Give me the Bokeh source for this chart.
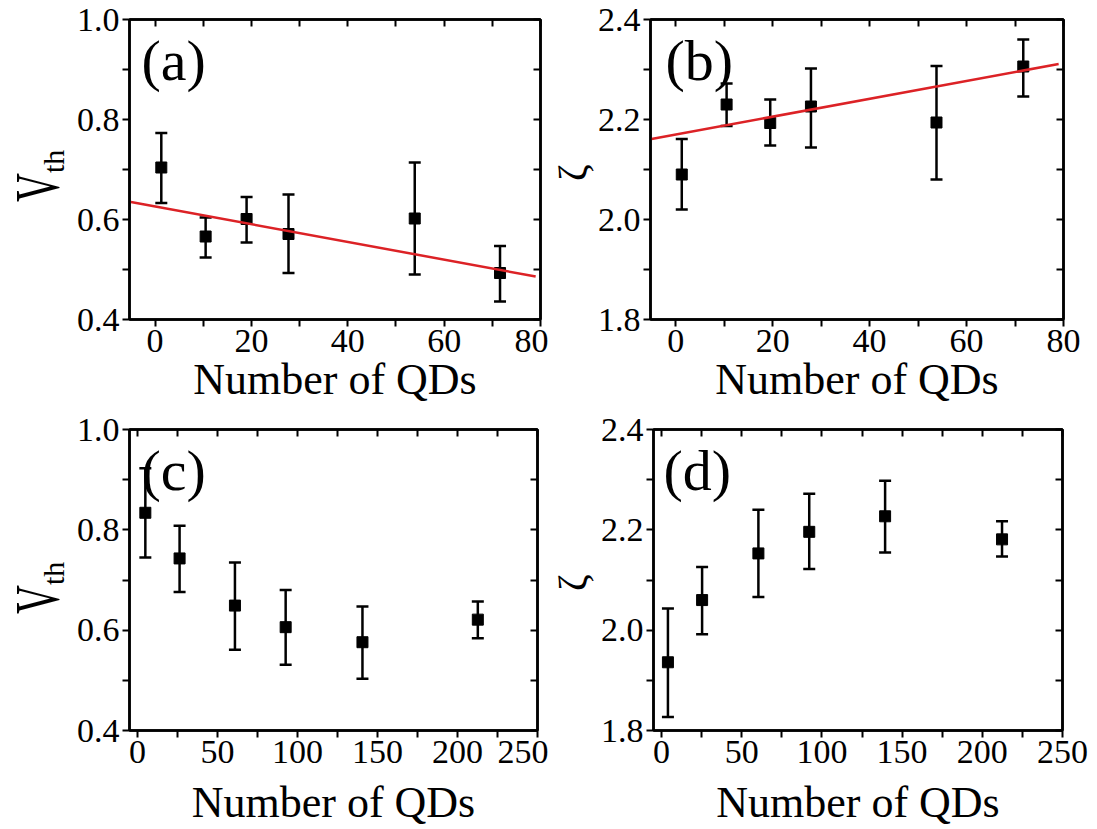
import math
from bokeh.plotting import figure
from bokeh.models import (ColumnDataSource, Whisker, TeeHead, Range1d, FixedTicker,
                          PrintfTickFormatter, LinearAxis, Label, Div)
from bokeh.layouts import column, row
from bokeh.embed import file_html
from bokeh.resources import INLINE

# ---------------- data ----------------
# panel (a): V_th vs number of QDs (small sample)
a_x = [1.3, 10.5, 19.0, 27.7, 53.9, 71.6]
a_y = [0.704, 0.566, 0.601, 0.571, 0.602, 0.493]
a_hi = [0.773, 0.604, 0.645, 0.650, 0.714, 0.547]
a_lo = [0.633, 0.524, 0.554, 0.493, 0.490, 0.436]
a_fit_x = [-5.0, 79.0]
a_fit_y = [0.635, 0.486]

# panel (b): zeta vs number of QDs (small sample)
b_x = [1.25, 10.5, 19.5, 27.9, 53.8, 71.7]
b_y = [2.090, 2.230, 2.193, 2.226, 2.194, 2.306]
b_hi = [2.161, 2.272, 2.240, 2.302, 2.307, 2.360]
b_lo = [2.020, 2.187, 2.148, 2.144, 2.080, 2.246]
b_fit_x = [-5.0, 79.0]
b_fit_y = [2.161, 2.311]

# panel (c): V_th vs number of QDs (large sample)
c_x = [4.9, 26.3, 60.9, 92.6, 140.6, 212.7]
c_y = [0.834, 0.743, 0.649, 0.606, 0.576, 0.621]
c_hi = [0.923, 0.808, 0.735, 0.680, 0.647, 0.657]
c_lo = [0.745, 0.676, 0.561, 0.531, 0.503, 0.584]

# panel (d): zeta vs number of QDs (large sample)
d_x = [4.0, 25.3, 60.4, 92.1, 139.4, 212.3]
d_y = [1.936, 2.060, 2.153, 2.196, 2.227, 2.181]
d_hi = [2.043, 2.126, 2.240, 2.272, 2.298, 2.217]
d_lo = [1.827, 1.992, 2.066, 2.122, 2.155, 2.147]

# ticks
x_ticks_small = [0, 20, 40, 60, 80]
x_minor_small = [10, 30, 50, 70]
x_ticks_large = [0, 50, 100, 150, 200, 250]
x_minor_large = [25, 75, 125, 175, 225]
v_ticks = [0.4, 0.6, 0.8, 1.0]
v_minor = [0.5, 0.7, 0.9]
z_ticks = [1.8, 2.0, 2.2, 2.4]
z_minor = [1.9, 2.1, 2.3]

x_title = "Number of QDs"
v_main, v_sub = "V", "th"
z_title = "\u03b6"
FONT = "Liberation Serif"
LW = 2.5
RED = "#dc2226"


def style_axis(ax, ticks, minor, fmt, shown):
    ax.ticker = FixedTicker(ticks=ticks, minor_ticks=minor)
    ax.formatter = PrintfTickFormatter(format=fmt)
    ax.axis_line_color = "black"
    ax.axis_line_width = LW
    ax.major_tick_line_color = "black"
    ax.major_tick_line_width = 2
    ax.minor_tick_line_color = "black"
    ax.minor_tick_line_width = 2
    if shown:
        ax.major_tick_out = 7
        ax.major_tick_in = 0
        ax.minor_tick_out = 7
        ax.minor_tick_in = 0
        ax.major_label_text_font = FONT
        ax.major_label_text_font_size = "34px"
        ax.major_label_text_color = "black"
        ax.major_label_standoff = 3
    else:
        ax.major_tick_out = 0
        ax.major_tick_in = 7
        ax.minor_tick_out = 0
        ax.minor_tick_in = 7
        ax.major_label_text_font_size = "0px"
        ax.major_label_standoff = 0


def panel(xs, ys, hi, lo, xr, yr, xt, xm, yt, ym, fw, fh, mbl, mbr, mbt, mbb,
          letter, letter_dx, fit_x=None, fit_y=None, title_standoff=0):
    p = figure(frame_width=fw, frame_height=fh,
               x_range=Range1d(*xr), y_range=Range1d(*yr),
               output_backend="svg", toolbar_location=None,
               min_border_left=mbl, min_border_right=mbr,
               min_border_top=mbt, min_border_bottom=mbb)
    p.grid.visible = False
    p.outline_line_color = "black"
    p.outline_line_width = LW
    p.background_fill_color = "white"
    p.border_fill_color = "white"

    xb = p.below[0]
    style_axis(xb, xt, xm, "%d", True)
    xb.axis_label = x_title
    xb.axis_label_text_font = FONT
    xb.axis_label_text_font_size = "44px"
    xb.axis_label_text_font_style = "normal"
    xb.axis_label_text_color = "black"
    xb.axis_label_standoff = title_standoff
    style_axis(p.left[0], yt, ym, "%.1f", True)

    top = LinearAxis()
    style_axis(top, xt, xm, "", False)
    p.add_layout(top, "above")
    right = LinearAxis()
    style_axis(right, yt, ym, "", False)
    p.add_layout(right, "right")

    src = ColumnDataSource(dict(x=xs, y=ys, hi=hi, lo=lo))
    w = Whisker(base="x", upper="hi", lower="lo", source=src, dimension="height",
                line_color="black", line_width=LW,
                upper_head=TeeHead(size=12, line_color="black", line_width=LW),
                lower_head=TeeHead(size=12, line_color="black", line_width=LW))
    p.add_layout(w)
    p.scatter("x", "y", source=src, marker="square", size=11,
              fill_color="black", line_color="black")
    if fit_x is not None:
        p.line(fit_x, fit_y, line_color=RED, line_width=2.5)

    p.add_layout(Label(x=xr[0], y=yr[1], x_offset=letter_dx, y_offset=-8,
                       text=letter, text_font=FONT, text_font_size="58px",
                       text_color="black", text_baseline="top", text_align="left"))
    return p


def vth_div(height, left, top):
    html = (
        f'<div style="position:absolute; left:{left}px; top:{top}px; '
        'transform:rotate(-90deg); transform-origin:0 0; white-space:nowrap; '
        f"font-family:'{FONT}',serif; font-size:40px; line-height:40px; color:#000;\">"
        '<span style="display:inline-block; transform:scaleY(1.6); transform-origin:0 33.5px;">'
        f'{v_main}</span><span style="font-size:30px; position:relative; top:5px;">{v_sub}</span></div>'
    )
    return Div(text=html, width=66, height=height, margin=0,
               styles={"position": "relative", "overflow": "visible", "background": "white"})


def zeta_div(width, height, left, top):
    html = (
        f'<div style="position:absolute; left:{left}px; top:{top}px; '
        'transform:rotate(-90deg); transform-origin:0 0; white-space:nowrap; '
        f"font-family:'{FONT}',serif; font-size:40px; line-height:40px; color:#000;\">"
        f'{z_title}</div>'
    )
    return Div(text=html, width=width, height=height, margin=0,
               styles={"position": "relative", "overflow": "visible", "background": "white"})


pa = panel(a_x, a_y, a_hi, a_lo, (-5.3, 80), (0.4, 1.0), x_ticks_small, x_minor_small,
           v_ticks, v_minor, 411, 300, 63, 8, 19, 91, "(a)", 12, a_fit_x, a_fit_y)
pb = panel(b_x, b_y, b_hi, b_lo, (-5.2, 80), (1.8, 2.4), x_ticks_small, x_minor_small,
           z_ticks, z_minor, 413, 300, 54, 36, 19, 91, "(b)", 15, b_fit_x, b_fit_y)
pc = panel(c_x, c_y, c_hi, c_lo, (-5, 250), (0.4, 1.0), x_ticks_large, x_minor_large,
           v_ticks, v_minor, 408, 301, 63, 11, 19, 99, "(c)", 12, title_standoff=12)
pd = panel(d_x, d_y, d_hi, d_lo, (-5, 250), (1.8, 2.4), x_ticks_large, x_minor_large,
           z_ticks, z_minor, 409, 301, 59, 35, 19, 99, "(d)", 10, title_standoff=12)

da = vth_div(410, 26, 202)
dc = vth_div(419, 26, 204)
db = zeta_div(46, 410, 5, 181)
dd = zeta_div(46, 419, 5, 181)

layout = column(row(da, pa, db, pb), row(dc, pc, dd, pd))
open("out.html", "w").write(file_html(layout, INLINE))
